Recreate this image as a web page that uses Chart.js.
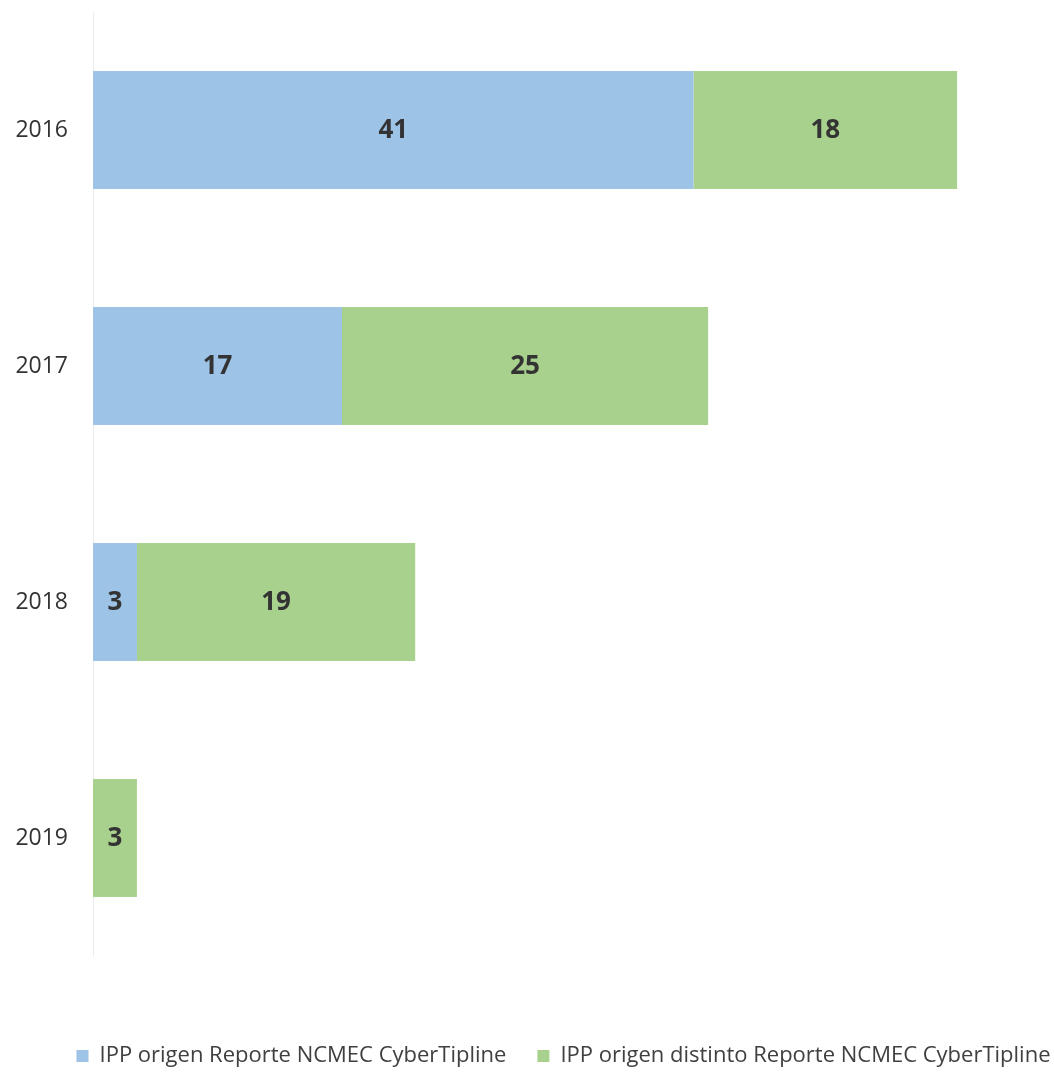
<!DOCTYPE html>
<html>
<head>
<meta charset="utf-8">
<script src="https://cdn.jsdelivr.net/npm/chart.js@4.4.0/dist/chart.umd.min.js"></script>
<style>
  html, body { margin: 0; padding: 0; background: #ffffff; }
  #wrap { width: 1054px; height: 1072px; }
</style>
</head>
<body>
<div id="wrap"><canvas id="barChart"></canvas></div>
<script>
const years = ['2016', '2017', '2018', '2019'];
const fromReport = [41, 17, 3, 0];
const otherOrigin = [18, 25, 19, 3];
const seriesNames = ['IPP origen Reporte NCMEC CyberTipline', 'IPP origen distinto Reporte NCMEC CyberTipline'];

Chart.defaults.font.family = '"Open Sans", Lato, sans-serif';
Chart.defaults.color = '#404040';

// draw the value in the middle of each bar segment
const barValues = {
  id: 'barValues',
  afterDatasetsDraw(chart) {
    const ctx = chart.ctx;
    ctx.save();
    ctx.font = 'bold 26px "Open Sans", Lato, sans-serif';
    ctx.fillStyle = '#333333';
    ctx.textAlign = 'center';
    ctx.textBaseline = 'middle';
    chart.data.datasets.forEach((ds, i) => {
      chart.getDatasetMeta(i).data.forEach((bar, j) => {
        if (!ds.data[j]) return;
        const p = bar.getCenterPoint();
        ctx.fillText(ds.data[j], p.x, p.y + 1);
      });
    });
    ctx.restore();
  }
};

// legend sits lower and a bit to the right
const legendPlace = {
  id: 'legendPlace',
  beforeInit(chart) {
    const fit = chart.legend.fit;
    chart.legend.fit = function () {
      fit.bind(chart.legend)();
      this.height = 58;
    };
  },
  afterLayout(chart) {
    chart.legend.left += 41;
    chart.legend.right += 41;
  }
};

const bar = document.getElementById('barChart');

  new Chart(bar, {
    type: 'bar',
    data: {
      labels: years,
      datasets: [{
        label: seriesNames[0],
        data: fromReport,
        backgroundColor: '#9dc3e6',
        categoryPercentage: 0.5,
        barPercentage: 1.0
      }, {
        label: seriesNames[1],
        data: otherOrigin,
        backgroundColor: '#a9d18e',
        categoryPercentage: 0.5,
        barPercentage: 1.0
      }]
    },
    options: {
      indexAxis: 'y',
      responsive: true,
      maintainAspectRatio: false,
      animation: false,
      layout: {
        padding: { top: 12, right: 9, left: 0, bottom: 0 }
      },
      plugins: {
        legend: {
          position: 'bottom',
          labels: {
            boxWidth: 12,
            boxHeight: 12,
            padding: 31,
            font: { size: 22 }
          }
        },
        tooltip: { enabled: false }
      },
      scales: {
        x: {
          stacked: true,
          min: 0,
          max: 65,
          grid: { display: false },
          border: { display: false },
          ticks: { display: false },
          afterFit(scale) { scale.height = 58; }
        },
        y: {
          stacked: true,
          grid: { display: false },
          border: { color: '#ececec', width: 1 },
          ticks: { padding: 17, font: { size: 23 }, color: '#333333' },
          afterFit(scale) {
            scale.width = 93;
            scale.paddingTop = 0;
            scale.paddingBottom = 0;
          }
        }
      }
    },
    plugins: [barValues, legendPlace]
  });
</script>
</body>
</html>
